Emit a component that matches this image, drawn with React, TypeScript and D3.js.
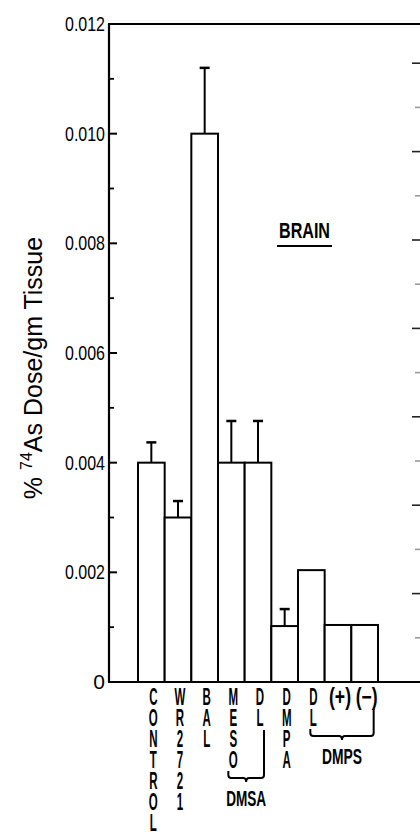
import React from 'react';
import * as d3 from 'd3';

// bar data
const categoryIds = ['control', 'wr2721', 'bal', 'meso', 'dmsa-dl', 'dmpa', 'dmps-dl', 'dmps-plus', 'dmps-minus'];
const categoryLabels = ['CONTROL', 'WR2721', 'BAL', 'MESO', 'DL', 'DMPA', 'DL', '(+)', '(−)'];
const values = [0.004, 0.003, 0.01, 0.004, 0.004, 0.00102, 0.00204, 0.00104, 0.00104];
const errors = [0.00037, 0.0003, 0.0012, 0.00076, 0.00076, 0.00031, 0, 0, 0];
const groupNames = ['DMSA', 'DMPS'];
const groupMembers = [[3, 4], [6, 8]];
const majorTicks = [0, 0.002, 0.004, 0.006, 0.008, 0.01, 0.012];
const minorTicks = [0.001, 0.003, 0.005, 0.007, 0.009, 0.011];
const neighbourTicks = d3.range(1, 15);

const W = 420;
const H = 832;
const axisX = 109;
const topY = 24;
const baseY = 682;

const FONT = '"Liberation Sans Narrow", "Liberation Sans", Arial, sans-serif';
const SANS = '"Liberation Sans", Arial, sans-serif';
const LETTER_PITCH = 21;
const FIRST_BASE = 705;

const App = () => {
  const x = d3.scaleBand().domain(categoryIds).range([138, 378]).padding(0);
  const y = d3.scaleLinear().domain([0, 0.012]).range([baseY, topY]);
  const yNext = d3.scaleLinear().domain([0, 15]).range([baseY, 19]);
  const bw = x.bandwidth();
  const cx = (i) => (x(categoryIds[i]) ?? 0) + bw / 2;
  const isStacked = (s) => !s.startsWith('(');
  const lastBase = (i) => {
    const s = categoryLabels[i];
    return isStacked(s) ? FIRST_BASE + (s.length - 1) * LETTER_PITCH : FIRST_BASE;
  };

  const brace = (xl, ytl, xr, ytr, yb) => {
    const xm = (xl + xr) / 2;
    return `M${xl},${ytl} L${xl},${yb - 3} Q${xl},${yb} ${xl + 3},${yb} L${xm - 3},${yb} Q${xm},${yb} ${xm},${yb + 4} Q${xm},${yb} ${xm + 3},${yb} L${xr - 3},${yb} Q${xr},${yb} ${xr},${yb - 3} L${xr},${ytr}`;
  };

  return (
    <svg width={W} height={H} style={{ position: 'absolute', left: 0, top: 0, background: '#fff' }}>
      {/* frame: y axis, top border and baseline */}
      <line x1={axisX} y1={topY} x2={axisX} y2={baseY} stroke="#000" strokeWidth={2.2} />
      <line x1={axisX - 1} y1={topY} x2={W} y2={topY} stroke="#000" strokeWidth={2} />
      <line x1={axisX - 1} y1={baseY} x2={W} y2={baseY} stroke="#000" strokeWidth={2.2} />

      {/* ticks of the neighbouring panel, cut off at the right edge */}
      {neighbourTicks.map((t) => (
        <line key={'n' + t} x1={t % 2 === 0 ? 412 : 415} x2={W} y1={yNext(t)} y2={yNext(t)}
          stroke={t % 2 === 0 ? '#222' : '#999'} strokeWidth={1.6} />
      ))}

      {majorTicks.map((t) => (
        <g key={'M' + t}>
          <line x1={axisX} x2={axisX + 8} y1={y(t)} y2={y(t)} stroke="#000" strokeWidth={2} />
          <text x={105} y={y(t) + 7} textAnchor="end" fontFamily={FONT} fontSize={21}
            textLength={t === 0 ? undefined : 40} lengthAdjust="spacingAndGlyphs">
            {t === 0 ? '0' : d3.format('.3f')(t)}
          </text>
        </g>
      ))}
      {minorTicks.map((t) => (
        <line key={'m' + t} x1={axisX} x2={axisX + 5} y1={y(t)} y2={y(t)} stroke="#000" strokeWidth={1.8} />
      ))}

      {/* y axis title */}
      <text transform={`translate(42, 368) rotate(-90)`} textAnchor="middle" fontFamily={SANS} fontSize={25}>
        <tspan>% </tspan>
        <tspan fontSize={16} dy={-10}>74</tspan>
        <tspan dy={10}>As Dose/gm Tissue</tspan>
      </text>

      {/* bars */}
      {values.map((v, i) => (
        <rect key={'b' + i} x={x(categoryIds[i])} y={y(v)} width={bw} height={baseY - y(v)}
          fill="#fff" stroke="#000" strokeWidth={2} />
      ))}

      {/* error bars */}
      {values.map((v, i) =>
        errors[i] > 0 ? (
          <g key={'e' + i} stroke="#000" strokeWidth={2}>
            <line x1={cx(i)} x2={cx(i)} y1={y(v)} y2={y(v + errors[i])} />
            <line x1={cx(i) - 5} x2={cx(i) + 5} y1={y(v + errors[i])} y2={y(v + errors[i])} strokeWidth={2.5} />
          </g>
        ) : null
      )}

      {/* category labels: stacked letters or short horizontal marks */}
      {categoryLabels.map((s, i) =>
        isStacked(s) ? (
          s.split('').map((ch, k) => (
            <text key={'l' + i + '-' + k} transform={`translate(${cx(i) + 2}, ${FIRST_BASE + k * LETTER_PITCH}) scale(0.5, 1)`}
              textAnchor="middle" fontFamily={SANS} fontWeight="bold" fontSize={23}>
              {ch}
            </text>
          ))
        ) : (
          <text key={'l' + i} x={cx(i) + 2} y={FIRST_BASE} textAnchor="middle"
            fontFamily={SANS} fontWeight="bold" fontSize={23}
            textLength={22} lengthAdjust="spacingAndGlyphs">
            {s}
          </text>
        )
      )}

      {/* group braces */}
      {groupNames.map((name, g) => {
        const [a, b] = groupMembers[g];
        const xl = isStacked(categoryLabels[a]) && categoryLabels[a].length > 2 ? cx(a) - 3 : cx(a) - 1;
        const xr = isStacked(categoryLabels[b]) ? cx(b) + 6 : cx(b) + 9;
        const yb = Math.max(lastBase(a), lastBase(b)) + (lastBase(a) > lastBase(b) ? 10 : 9);
        return (
          <g key={name}>
            <path d={brace(xl, lastBase(a) + 3, xr, lastBase(b) + 4, yb)} fill="none" stroke="#000" strokeWidth={2} />
            <text x={(xl + xr) / 2} y={yb + 28} textAnchor="middle" fontFamily={SANS}
              fontWeight="bold" fontSize={22} textLength={40} lengthAdjust="spacingAndGlyphs">
              {name}
            </text>
          </g>
        );
      })}

      {/* panel title */}
      <text x={279} y={238} fontFamily={SANS} fontWeight="bold" fontSize={22}
        textLength={51} lengthAdjust="spacingAndGlyphs">
        BRAIN
      </text>
      <line x1={277} x2={332} y1={246} y2={246} stroke="#000" strokeWidth={2} />
    </svg>
  );
};

export default App;
